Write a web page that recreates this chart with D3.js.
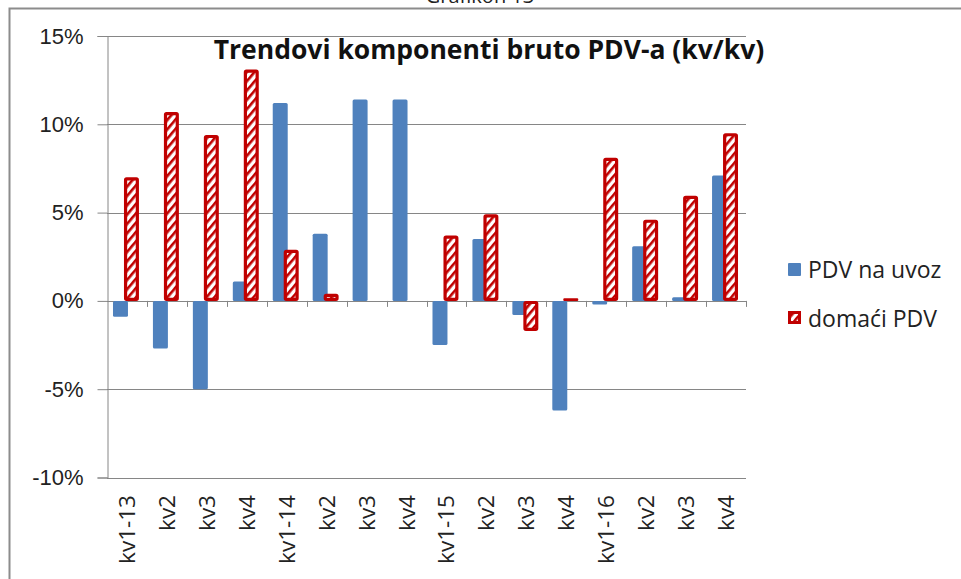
<!DOCTYPE html>
<html>
<head>
<meta charset="utf-8">
<script src="https://cdn.jsdelivr.net/npm/d3@7"></script>
<style>
  body { margin: 0; background: #fff; }
  svg { display: block; font-family: "Open Sans", sans-serif; }
  .tick text { fill: #222; }
</style>
</head>
<body>
<svg width="961" height="579"></svg>
<script>
// kvartali (kv/kv), u %
const categories = ["kv1-13", "kv2", "kv3", "kv4", "kv1-14", "kv2", "kv3", "kv4",
  "kv1-15", "kv2", "kv3", "kv4", "kv1-16", "kv2", "kv3", "kv4"];
const pdvUvoz = [-0.9, -2.7, -5.0, 1.1, 11.2, 3.8, 11.4, 11.4,
  -2.5, 3.5, -0.8, -6.2, -0.2, 3.1, 0.2, 7.1];
const domaciPdv = [7.0, 10.7, 9.4, 13.1, 2.9, 0.4, null, null,
  3.7, 4.9, -1.7, 0.15, 8.1, 4.6, 5.95, 9.5];
const yTicks = [-10, -5, 0, 5, 10, 15];
const seriesNames = ["PDV na uvoz", "domaći PDV"];

const blue = "#4f81bd";
const red = "#c00000";
const grid = "#868686";

const svg = d3.select("svg");

const plotLeft = 107, plotRight = 746, plotTop = 36, plotBottom = 477.5;

const x = d3.scaleBand().domain(d3.range(categories.length)).range([plotLeft, plotRight]);
const y = d3.scaleLinear().domain([-10, 15]).range([plotBottom, plotTop]);
const bw = x.bandwidth();

// hatch for domaci PDV
const defs = svg.append("defs");
const pat = defs.append("pattern")
  .attr("id", "hatch")
  .attr("patternUnits", "userSpaceOnUse")
  .attr("width", 6).attr("height", 6)
  .attr("patternTransform", "rotate(40)");
pat.append("rect").attr("width", 6).attr("height", 6).attr("fill", "#fff");
pat.append("rect").attr("width", 2.6).attr("height", 6).attr("fill", red);

// outer frame (right/bottom edges fall outside the window)
svg.append("path")
  .attr("d", "M9.5,579 V8.5 H961")
  .attr("fill", "none")
  .attr("stroke", "#8c8c8c")
  .attr("stroke-width", 2);

// caption above the frame, cut off by the window as in the source
svg.append("text")
  .attr("x", 480).attr("y", 3)
  .attr("text-anchor", "middle")
  .attr("font-size", 20)
  .attr("fill", "#222")
  .text("Grafikon 13");

// gridlines
svg.append("g")
  .selectAll("line")
  .data(yTicks)
  .join("line")
  .attr("x1", plotLeft).attr("x2", plotRight)
  .attr("y1", d => Math.round(y(d)) + 0.5).attr("y2", d => Math.round(y(d)) + 0.5)
  .attr("stroke", grid);

// y axis
const yAxis = svg.append("g")
  .attr("transform", `translate(${plotLeft + 0.5},0)`)
  .call(d3.axisLeft(y).tickValues(yTicks).tickSize(10).tickPadding(14)
    .tickFormat(d => d + "%"));
yAxis.select(".domain").attr("stroke", grid);
yAxis.selectAll(".tick line").attr("stroke", grid);
yAxis.selectAll(".tick text").attr("font-size", 22);

// category ticks on the zero line
svg.append("g")
  .selectAll("line")
  .data(d3.range(1, categories.length + 1))
  .join("line")
  .attr("x1", i => Math.round(plotLeft + i * bw) + 0.5)
  .attr("x2", i => Math.round(plotLeft + i * bw) + 0.5)
  .attr("y1", y(0)).attr("y2", y(0) + 6)
  .attr("stroke", grid);

// category labels
svg.append("g")
  .selectAll("text")
  .data(categories)
  .join("text")
  .attr("transform", (d, i) => `translate(${x(i) + bw / 2 + 8},495) rotate(-90)`)
  .attr("text-anchor", "end")
  .attr("font-size", 22.5)
  .attr("fill", "#222")
  .text(d => d);

// PDV na uvoz
svg.append("g")
  .selectAll("rect")
  .data(pdvUvoz)
  .join("rect")
  .attr("x", (d, i) => x(i) + bw * 0.15)
  .attr("width", bw * 0.375)
  .attr("y", d => y(Math.max(0, d)))
  .attr("height", d => Math.abs(y(d) - y(0)))
  .attr("rx", 1.5)
  .attr("fill", blue);

// domaci PDV
const sw = 3.2;
svg.append("g")
  .selectAll("rect")
  .data(domaciPdv.map((v, i) => ({ v, i })).filter(d => d.v !== null))
  .join("rect")
  .each(function (d) {
    const r = d3.select(this);
    const x0 = x(d.i) + bw * 0.425;
    const w = bw * 0.375;
    const y0 = y(Math.max(0, d.v));
    const h = Math.abs(y(d.v) - y(0));
    if (h < sw * 2) {
      r.attr("x", x0).attr("width", w).attr("y", y0).attr("height", Math.max(h, 2.5))
        .attr("fill", red).attr("rx", 1);
    } else {
      r.attr("x", x0 + sw / 2).attr("width", w - sw)
        .attr("y", y0 + sw / 2).attr("height", h - sw)
        .attr("fill", "url(#hatch)")
        .attr("stroke", red).attr("stroke-width", sw)
        .attr("rx", 1);
    }
  });

// legend
const legend = svg.append("g").attr("transform", "translate(788,0)");
legend.append("rect")
  .attr("x", 0).attr("y", 263).attr("width", 13).attr("height", 13)
  .attr("rx", 1).attr("fill", blue);
legend.append("rect")
  .attr("x", 1.5).attr("y", 312.5).attr("width", 10).attr("height", 10)
  .attr("fill", "url(#hatch)").attr("stroke", red).attr("stroke-width", 3);
legend.selectAll("text.lg")
  .data(seriesNames)
  .join("text")
  .attr("class", "lg")
  .attr("x", 20)
  .attr("y", (d, i) => 278 + i * 49)
  .attr("font-size", 23)
  .attr("fill", "#222")
  .text(d => d);

// title
svg.append("text")
  .attr("x", 489).attr("y", 59)
  .attr("text-anchor", "middle")
  .attr("font-size", 26.5)
  .attr("font-weight", "bold")
  .attr("fill", "#111")
  .text("Trendovi komponenti bruto PDV-a (kv/kv)");
</script>
</body>
</html>
